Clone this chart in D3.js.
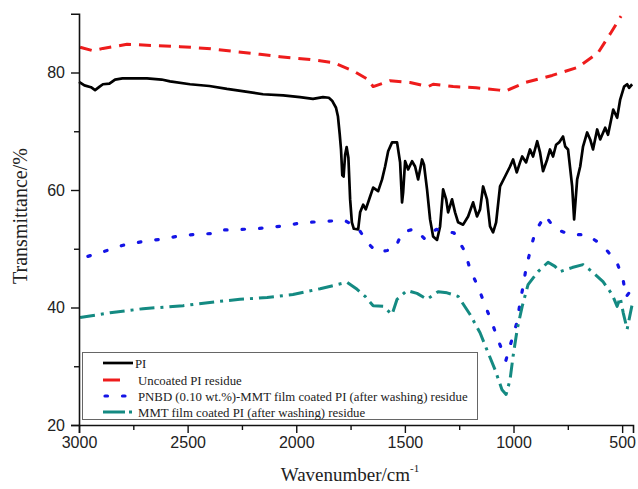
<!DOCTYPE html>
<html>
<head>
<meta charset="utf-8">
<script src="https://cdn.jsdelivr.net/npm/d3@7"></script>
<style>
  body { margin: 0; background: #fff; }
  svg { display: block; }
</style>
</head>
<body>
<div id="chart"></div>
<script>
// data (wavenumber in cm-1, transmittance in %)
var piWn = [3000, 2975, 2945, 2926, 2905, 2890, 2860, 2834, 2800, 2765, 2687, 2620, 2581, 2489, 2400, 2319, 2240, 2153, 2060, 1983, 1923, 1877, 1850, 1835, 1817, 1808, 1800, 1794, 1788, 1782, 1775, 1768, 1760, 1752, 1744, 1735, 1715, 1706, 1692, 1680, 1660, 1646, 1623, 1605, 1591, 1577, 1559, 1536, 1522, 1513, 1508, 1499, 1485, 1467, 1453, 1439, 1421, 1412, 1398, 1384, 1370, 1352, 1338, 1324, 1310, 1301, 1283, 1269, 1255, 1232, 1209, 1186, 1168, 1154, 1140, 1122, 1108, 1094, 1080, 1062, 1039, 1016, 1002, 985, 970, 960, 942, 924, 910, 891, 878, 864, 845, 832, 818, 804, 790, 772, 762, 749, 730, 721, 707, 693, 680, 661, 647, 634, 615, 601, 578, 565, 541, 523, 509, 491, 477, 468, 454];
var piT = [78.4, 77.8, 77.5, 77.0, 77.6, 78.0, 78.1, 78.8, 79.0, 79.0, 79.0, 78.8, 78.5, 78.0, 77.7, 77.2, 76.8, 76.3, 76.1, 75.8, 75.5, 75.8, 75.7, 75.2, 74.0, 72.5, 69.5, 66.9, 62.5, 62.3, 66.0, 67.3, 65.5, 58.4, 54.5, 53.4, 53.3, 56.2, 57.5, 56.7, 58.9, 60.4, 59.8, 61.8, 64.0, 66.6, 68.1, 68.1, 64.7, 57.9, 59.6, 64.9, 63.5, 64.9, 64.0, 61.8, 65.2, 64.3, 60.1, 55.0, 52.1, 51.5, 53.8, 60.1, 58.4, 56.2, 58.4, 56.2, 54.5, 54.1, 55.5, 57.9, 55.5, 56.7, 60.6, 58.4, 53.8, 52.8, 54.5, 60.6, 62.3, 64.0, 65.2, 63.0, 64.7, 65.7, 64.7, 66.9, 65.7, 68.3, 66.4, 63.2, 65.2, 66.9, 65.7, 67.7, 68.1, 69.1, 67.4, 66.9, 60.6, 55.0, 61.8, 64.0, 67.4, 69.8, 68.6, 66.9, 70.3, 68.6, 70.6, 69.4, 73.7, 72.3, 75.4, 77.6, 78.0, 77.4, 78.0];

var uncoatedWn = [2995, 2936, 2890, 2779, 2659, 2535, 2411, 2291, 2167, 2075, 1936, 1831, 1739, 1669, 1646, 1568, 1476, 1393, 1370, 1278, 1172, 1066, 1039, 947, 822, 703, 610, 551, 505];
var uncoatedT = [84.3, 83.7, 84.1, 84.8, 84.6, 84.4, 84.1, 83.6, 83.1, 82.7, 82.2, 81.7, 80.3, 78.8, 77.6, 78.6, 78.3, 77.6, 78.0, 77.6, 77.4, 77.0, 76.8, 78.3, 79.5, 80.9, 83.4, 86.8, 89.6];

var pnbdWn = [2959, 2871, 2797, 2710, 2627, 2549, 2475, 2388, 2351, 2291, 2204, 2121, 2042, 1959, 1881, 1808, 1775, 1715, 1674, 1628, 1582, 1545, 1513, 1453, 1407, 1356, 1274, 1223, 1200, 1163, 1131, 1099, 1071, 1035, 1007, 983, 970, 956, 942, 924, 901, 855, 809, 739, 661, 588, 523, 495, 482, 468, 450];
var pnbdT = [48.7, 49.7, 50.6, 51.2, 51.6, 52.1, 52.4, 52.6, 53.2, 53.2, 53.4, 53.6, 54.0, 54.5, 54.6, 54.8, 54.8, 53.5, 51.1, 49.4, 49.7, 50.0, 52.8, 53.4, 51.6, 53.3, 52.7, 49.5, 46.5, 43.5, 40.4, 37.4, 34.5, 31.0, 34.6, 37.6, 40.8, 43.6, 46.7, 49.5, 52.8, 55.7, 53.4, 52.4, 52.4, 50.5, 47.6, 44.6, 41.8, 42.5, 43.2];

var mmtWn = [2995, 2857, 2705, 2521, 2365, 2259, 2134, 2015, 1890, 1766, 1720, 1683, 1646, 1600, 1559, 1536, 1490, 1444, 1398, 1347, 1306, 1255, 1200, 1154, 1117, 1085, 1053, 1034, 1016, 1002, 983, 960, 933, 887, 841, 809, 786, 730, 680, 638, 588, 546, 523, 509, 495, 477, 454];
var mmtT = [38.3, 39.1, 39.8, 40.3, 41.0, 41.4, 41.7, 42.2, 43.2, 44.3, 43.1, 41.9, 40.3, 40.2, 38.8, 41.4, 42.9, 42.4, 41.4, 42.7, 42.5, 41.9, 38.8, 35.7, 32.3, 29.4, 26.0, 25.2, 27.7, 31.7, 36.3, 40.2, 43.9, 46.1, 47.7, 47.0, 46.1, 46.8, 47.3, 46.1, 44.4, 42.2, 40.2, 41.7, 39.1, 36.3, 40.5];

var xTicks = [3000, 2500, 2000, 1500, 1000, 500];
var xMinor = [2750, 2250, 1750, 1250, 750];
var yTicks = [20, 40, 60, 80];
var yMinor = [30, 50, 70];

var seriesNames = [
  "PI",
  "Uncoated PI residue",
  "PNBD (0.10 wt.%)-MMT film coated PI (after washing) residue",
  "MMT film coated PI (after washing) residue",
];

// styles for each series, same order as the names
var seriesStyle = [
  { color: "#000000", width: 2.7, dash: null, cap: "butt" },
  { color: "#ee1c1c", width: 3, dash: "12,8", cap: "butt" },
  { color: "#1414e6", width: 3.2, dash: "2.5,15", cap: "round" },
  { color: "#148a82", width: 3, dash: "15,6,3,6", cap: "butt" },
];

var W = 638;
var H = 489;

var svg = d3
  .select("#chart")
  .append("svg")
  .attr("width", W)
  .attr("height", H);

var xScale = d3.scaleLinear().domain([3000, 450]).range([79, 633]);
var yScale = d3.scaleLinear().domain([20, 90]).range([425, 13.75]);

// pair up wn and T arrays
function zipSeries(wn, t) {
  return wn.map(function (d, i) {
    return [d, t[i]];
  });
}

var allSeries = [
  zipSeries(piWn, piT),
  zipSeries(uncoatedWn, uncoatedT),
  zipSeries(pnbdWn, pnbdT),
  zipSeries(mmtWn, mmtT),
];

var line = d3
  .line()
  .x(function (d) {
    return xScale(d[0]);
  })
  .y(function (d) {
    return yScale(d[1]);
  });

//Lines
svg
  .selectAll("path.series")
  .data(allSeries)
  .enter()
  .append("path")
  .attr("class", "series")
  .attr("fill", "none")
  .attr("d", line)
  .attr("stroke", function (d, i) {
    return seriesStyle[i].color;
  })
  .attr("stroke-width", function (d, i) {
    return seriesStyle[i].width;
  })
  .attr("stroke-dasharray", function (d, i) {
    return seriesStyle[i].dash;
  })
  .attr("stroke-linecap", function (d, i) {
    return seriesStyle[i].cap;
  })
  .attr("stroke-linejoin", "round");

// X axis with major and minor ticks
svg
  .append("g")
  .attr("transform", "translate(0,425)")
  .call(
    d3
      .axisBottom(xScale)
      .tickValues(xTicks)
      .tickFormat(d3.format("d"))
      .tickSize(8)
      .tickPadding(4)
  );

svg
  .append("g")
  .attr("transform", "translate(0,425)")
  .call(d3.axisBottom(xScale).tickValues(xMinor).tickSize(5).tickFormat(""))
  .select(".domain")
  .remove();

// Y axis with major and minor ticks
svg
  .append("g")
  .attr("transform", "translate(79,0)")
  .call(
    d3
      .axisLeft(yScale)
      .tickValues(yTicks)
      .tickFormat(d3.format("d"))
      .tickSize(8)
      .tickPadding(6)
  );

svg
  .append("g")
  .attr("transform", "translate(79,0)")
  .call(d3.axisLeft(yScale).tickValues(yMinor).tickSize(5).tickFormat(""))
  .select(".domain")
  .remove();

svg.selectAll(".domain").attr("stroke-width", 1.6).attr("stroke", "#111");
svg.selectAll(".tick line").attr("stroke-width", 1.4).attr("stroke", "#111");
svg
  .selectAll(".tick text")
  .attr("font-family", "Liberation Sans, Arial, sans-serif")
  .attr("font-size", 16)
  .attr("fill", "#222");

// axis titles
var xTitle = svg
  .append("text")
  .attr("x", 350)
  .attr("y", 481)
  .attr("text-anchor", "middle")
  .attr("font-family", "Liberation Serif, Times New Roman, serif")
  .attr("font-size", 19)
  .attr("fill", "#222")
  .text("Wavenumber/cm");
xTitle.append("tspan").attr("font-size", 11).attr("dy", -9).text("-1");

svg
  .append("text")
  .attr("transform", "translate(27,216) rotate(-90)")
  .attr("text-anchor", "middle")
  .attr("font-family", "Liberation Serif, Times New Roman, serif")
  .attr("font-size", 20)
  .attr("fill", "#222")
  .text("Transmittance/%");

// Legend
var legend = svg.append("g");
legend
  .append("rect")
  .attr("x", 82.5)
  .attr("y", 352.5)
  .attr("width", 395)
  .attr("height", 67)
  .attr("fill", "#fff")
  .attr("stroke", "#666")
  .attr("stroke-width", 1);

var legendY = [363, 380, 396, 412];
var legendSample = [
  [103, 133],
  [103, 120],
  [105, 125],
  [103, 133],
];

seriesNames.forEach(function (name, i) {
  legend
    .append("line")
    .attr("x1", legendSample[i][0])
    .attr("x2", legendSample[i][1])
    .attr("y1", legendY[i])
    .attr("y2", legendY[i])
    .attr("stroke", seriesStyle[i].color)
    .attr("stroke-width", seriesStyle[i].width)
    .attr("stroke-linecap", seriesStyle[i].cap)
    .attr("stroke-dasharray", i == 2 ? "2.5,15" : i == 3 ? "22,4,3,6" : null);

  legend
    .append("text")
    .attr("x", i == 0 ? 135 : 138)
    .attr("y", legendY[i] + 4.5)
    .attr("font-family", "Liberation Serif, Times New Roman, serif")
    .attr("font-size", 12.8)
    .attr("fill", "#222")
    .text(name);
});
</script>
</body>
</html>
